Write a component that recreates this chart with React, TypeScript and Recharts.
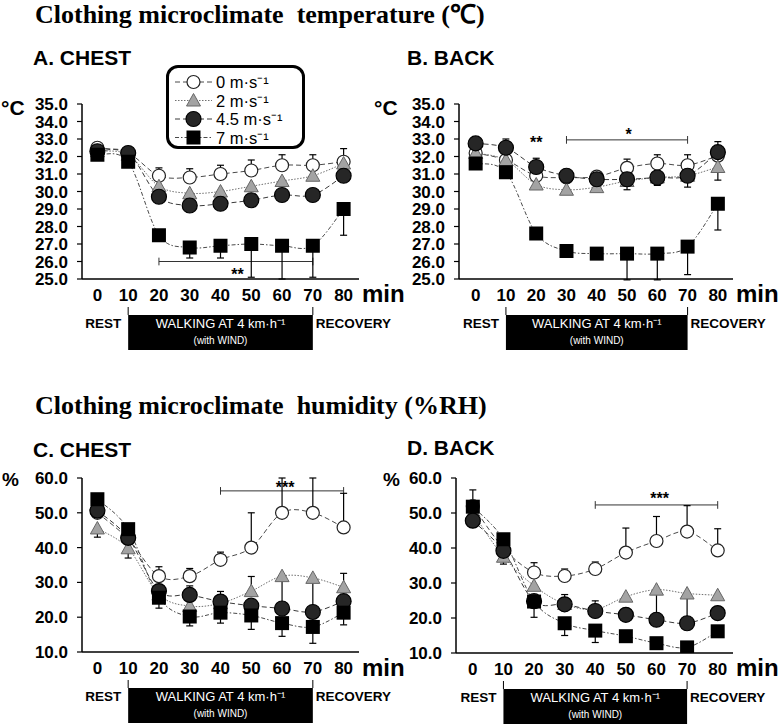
import React from 'react';
import { LineChart, Line, XAxis, YAxis, ErrorBar, ReferenceLine, ReferenceDot } from 'recharts';

type Sd = [number, number] | null;

const minutes = [0, 10, 20, 30, 40, 50, 60, 70, 80];
const minuteTicks = [0, 10, 20, 30, 40, 50, 60, 70, 80];
const windLabels = ['0 m·s⁻¹', '2 m·s⁻¹', '4.5 m·s⁻¹', '7 m·s⁻¹'];
const tempTicks = [25, 26, 27, 28, 29, 30, 31, 32, 33, 34, 35];
const rhTicks = [10, 20, 30, 40, 50, 60];

// A. Chest temperature (°C), one array per wind speed; SD given as [below, above]
const chestTemp0 = [32.5, 32.2, 30.9, 30.8, 31.0, 31.2, 31.5, 31.5, 31.7];
const chestTemp2 = [32.3, 32.1, 30.3, 29.9, 30.0, 30.3, 30.6, 30.9, 31.6];
const chestTemp45 = [32.3, 32.2, 29.7, 29.2, 29.3, 29.5, 29.8, 29.8, 30.9];
const chestTemp7 = [32.1, 31.7, 27.5, 26.8, 26.9, 27.0, 26.9, 26.9, 29.0];
const chestTemp0Sd: Sd[] = [null, null, [0, 0.45], [0, 0.5], [0, 0.5], [0, 0.6], [0, 0.6], [0, 0.6], [0, 0.75]];
const chestTemp2Sd: Sd[] = [null, null, null, null, null, null, null, null, null];
const chestTemp45Sd: Sd[] = [null, null, null, null, null, null, null, null, null];
const chestTemp7Sd: Sd[] = [null, null, null, [0.6, 0], [0.7, 0], [1.9, 0], [1.9, 0], [1.8, 0], [1.5, 0]];

// B. Back temperature (°C)
const backTemp0 = [32.2, 31.8, 30.9, 30.8, 30.85, 31.35, 31.6, 31.5, 32.05];
const backTemp2 = [32.2, 31.8, 30.4, 30.1, 30.25, 30.6, 30.8, 30.9, 31.4];
const backTemp45 = [32.75, 32.5, 31.4, 30.9, 30.7, 30.7, 30.8, 30.9, 32.25];
const backTemp7 = [31.6, 31.1, 27.6, 26.6, 26.45, 26.45, 26.45, 26.85, 29.3];
const backTemp0Sd: Sd[] = [null, null, null, null, null, [0, 0.5], [0, 0.5], [0, 0.6], null];
const backTemp2Sd: Sd[] = [null, null, null, null, null, null, null, null, [0.75, 0]];
const backTemp45Sd: Sd[] = [null, [0, 0.5], [0, 0.5], null, null, [0.6, 0], [0.45, 0], [0.65, 0], [0, 0.6]];
const backTemp7Sd: Sd[] = [null, null, null, null, null, [1.5, 0], [1.5, 0], [1.6, 0], [1.5, 0]];

// C. Chest humidity (%RH)
const chestRh0 = [50.0, 42.5, 31.8, 31.8, 36.5, 40.0, 50.0, 50.0, 45.8];
const chestRh2 = [45.5, 39.8, 26.5, 23.2, 24.0, 27.5, 31.8, 31.3, 28.6];
const chestRh45 = [50.6, 42.8, 27.5, 26.4, 24.5, 23.3, 22.5, 21.5, 24.6];
const chestRh7 = [53.9, 45.3, 25.6, 20.2, 21.3, 20.5, 18.3, 17.2, 21.3];
const chestRh0Sd: Sd[] = [null, null, [0, 2.7], [0, 2.2], [0, 2.2], [0, 10], [0, 10], [0, 10], [0, 9.8]];
const chestRh2Sd: Sd[] = [[2.5, 0], [2.8, 0], null, null, null, [0, 4.2], [9.5, 0], [10, 0], [0, 4.0]];
const chestRh45Sd: Sd[] = [null, null, null, [0, 2.6], [0, 2.9], null, null, null, null];
const chestRh7Sd: Sd[] = [null, null, [3, 0], [2.7, 0], [3, 0], [4, 0], [3.8, 0], [4.7, 0], [3.5, 0]];

// D. Back humidity (%RH)
const backRh0 = [52.0, 40.0, 33.0, 32.0, 34.0, 38.7, 42.0, 44.7, 39.3];
const backRh2 = [50.0, 37.5, 29.2, 24.0, 22.5, 26.1, 28.1, 27.0, 26.5];
const backRh45 = [47.8, 39.2, 24.8, 23.9, 22.0, 20.9, 19.5, 18.5, 21.4];
const backRh7 = [51.8, 42.5, 24.7, 18.5, 16.4, 14.8, 12.8, 11.6, 16.2];
const backRh0Sd: Sd[] = [[0, 4.6], null, [0, 2.8], [0, 2.0], [0, 2.0], [0, 7.0], [0, 7.0], [0, 7.4], [0, 6.2]];
const backRh2Sd: Sd[] = [null, null, null, null, null, null, [8, 0], [8, 0], null];
const backRh45Sd: Sd[] = [null, [3.8, 0], null, [0, 2.8], [0, 2.9], null, null, null, null];
const backRh7Sd: Sd[] = [null, [0, 1.5], [4.5, 0], [3.5, 0], [3.4, 0], null, null, null, null];

// Significance brackets and asterisks (data coordinates)
type Bracket = { from: number; to: number; level: number };
type Mark = { at: number; level: number; text: string };
const chestTempBrackets: Bracket[] = [{ from: 20, to: 70, level: 26.0 }];
const chestTempMarks: Mark[] = [{ at: 45.5, level: 25.45, text: '**' }];
const backTempBrackets: Bracket[] = [{ from: 30, to: 70, level: 32.95 }];
const backTempMarks: Mark[] = [
  { at: 20, level: 33.0, text: '**' },
  { at: 50.5, level: 33.45, text: '*' },
];
const chestRhBrackets: Bracket[] = [{ from: 40, to: 80, level: 56.3 }];
const chestRhMarks: Mark[] = [{ at: 61, level: 58.4, text: '***' }];
const backRhBrackets: Bracket[] = [{ from: 40, to: 80, level: 52.3 }];
const backRhMarks: Mark[] = [{ at: 61, level: 55.2, text: '***' }];

const SANS = '"Liberation Sans", Arial, Helvetica, sans-serif';
const SERIF = '"Liberation Serif", "Times New Roman", serif';

type MarkerKind = 'open' | 'triangle' | 'dark' | 'square';

const seriesStyles: { key: string; marker: MarkerKind; stroke: string; dash: string }[] = [
  { key: 'w0', marker: 'open', stroke: '#4a4a4a', dash: '5 3' },
  { key: 'w2', marker: 'triangle', stroke: '#707070', dash: '1.5 1.5' },
  { key: 'w45', marker: 'dark', stroke: '#3a3a3a', dash: '5 3' },
  { key: 'w7', marker: 'square', stroke: '#4a4a4a', dash: '4 2 1.5 2' },
];

function buildRows(values: number[][], sds: Sd[][]) {
  return minutes.map((minute, i) => ({
    minute,
    w0: values[0][i],
    w2: values[1][i],
    w45: values[2][i],
    w7: values[3][i],
    w0sd: sds[0][i],
    w2sd: sds[1][i],
    w45sd: sds[2][i],
    w7sd: sds[3][i],
  }));
}

// Smoothed line through every point (Catmull-Rom converted to cubic Bezier)
const smoothCurve: any = (context: any) => {
  let pts: [number, number][] = [];
  return {
    areaStart() {},
    areaEnd() {},
    lineStart() {
      pts = [];
    },
    point(x: number, y: number) {
      pts.push([+x, +y]);
    },
    lineEnd() {
      const n = pts.length;
      if (!n) return;
      context.moveTo(pts[0][0], pts[0][1]);
      for (let i = 0; i < n - 1; i++) {
        const p0 = pts[Math.max(i - 1, 0)];
        const p1 = pts[i];
        const p2 = pts[i + 1];
        const p3 = pts[Math.min(i + 2, n - 1)];
        context.bezierCurveTo(
          p1[0] + (p2[0] - p0[0]) / 6,
          p1[1] + (p2[1] - p0[1]) / 6,
          p2[0] - (p3[0] - p1[0]) / 6,
          p2[1] - (p3[1] - p1[1]) / 6,
          p2[0],
          p2[1]
        );
      }
    },
  };
};

function drawMarker(kind: MarkerKind, cx: number, cy: number, key?: any) {
  switch (kind) {
    case 'open':
      return <circle key={key} cx={cx} cy={cy} r={6.5} fill="#fff" stroke="#222" strokeWidth={1.2} />;
    case 'triangle':
      return (
        <polygon
          key={key}
          points={`${cx},${cy - 7} ${cx + 7},${cy + 5.5} ${cx - 7},${cy + 5.5}`}
          fill="#a3a3a3"
          stroke="#666"
          strokeWidth={1}
        />
      );
    case 'dark':
      return <circle key={key} cx={cx} cy={cy} r={7.5} fill="#262626" stroke="#000" strokeWidth={1.2} />;
    default:
      return <rect key={key} x={cx - 7} y={cy - 7} width={14} height={14} fill="#000" />;
  }
}

const markerDot = (kind: MarkerKind) => (props: any) => {
  const { cx, cy, index } = props;
  if (cx == null || cy == null) return <g key={index} />;
  return drawMarker(kind, cx, cy, index);
};

type Geometry = { left: number; top: number; width: number; height: number; xDomain: [number, number] };

const geomA: Geometry = { left: 82, top: 104, width: 277, height: 175, xDomain: [-5, 85] };
const geomB: Geometry = { left: 459, top: 104, width: 274, height: 175, xDomain: [-5.5, 85] };
const geomC: Geometry = { left: 82, top: 478, width: 277, height: 174, xDomain: [-5, 85] };
const geomD: Geometry = { left: 456, top: 478, width: 277, height: 175, xDomain: [-5.5, 85] };

const px = (g: Geometry, v: number) => g.left + ((v - g.xDomain[0]) / (g.xDomain[1] - g.xDomain[0])) * g.width;

const tickFont = { fill: '#000', fontSize: 17, fontWeight: 700, fontFamily: SANS };

interface PanelProps {
  g: Geometry;
  rows: any[];
  yDomain: [number, number];
  yTicks: number[];
  brackets: Bracket[];
  marks: Mark[];
  tickHalf: number;
}

function Panel({ g, rows, yDomain, yTicks, brackets, marks, tickHalf }: PanelProps) {
  const padTop = 14;
  const padRight = 14;
  const yAxisW = 60;
  const padLeft = 20;
  const xAxisH = 32;
  return (
    <div style={{ position: 'absolute', left: g.left - yAxisW - padLeft, top: g.top - padTop }}>
      <LineChart
        width={padLeft + yAxisW + g.width + padRight}
        height={padTop + g.height + xAxisH}
        data={rows}
        margin={{ top: padTop, right: padRight, bottom: 0, left: padLeft }}
      >
        <XAxis
          type="number"
          dataKey="minute"
          domain={g.xDomain}
          ticks={minuteTicks}
          interval={0}
          allowDataOverflow
          tickLine={false}
          tickSize={0}
          tickMargin={10}
          height={xAxisH}
          axisLine={{ stroke: '#000', strokeWidth: 1.5 }}
          tick={tickFont}
        />
        <YAxis
          type="number"
          domain={yDomain}
          ticks={yTicks}
          interval={0}
          allowDataOverflow
          width={yAxisW}
          tickSize={5}
          tickMargin={9}
          tickFormatter={(v: number) => v.toFixed(1)}
          axisLine={{ stroke: '#000', strokeWidth: 1.5 }}
          tickLine={{ stroke: '#000', strokeWidth: 1.2 }}
          tick={tickFont}
        />
        {brackets.map((b, i) => (
          <ReferenceLine
            key={`bh${i}`}
            segment={[{ x: b.from, y: b.level }, { x: b.to, y: b.level }]}
            stroke="#333"
            strokeWidth={1}
          />
        ))}
        {brackets.map((b, i) => (
          <ReferenceLine
            key={`bl${i}`}
            segment={[{ x: b.from, y: b.level - tickHalf }, { x: b.from, y: b.level + tickHalf }]}
            stroke="#333"
            strokeWidth={1}
          />
        ))}
        {brackets.map((b, i) => (
          <ReferenceLine
            key={`br${i}`}
            segment={[{ x: b.to, y: b.level - tickHalf }, { x: b.to, y: b.level + tickHalf }]}
            stroke="#333"
            strokeWidth={1}
          />
        ))}
        {seriesStyles.map((s) => (
          <Line
            key={s.key}
            type={smoothCurve}
            dataKey={s.key}
            stroke={s.stroke}
            strokeWidth={1}
            strokeDasharray={s.dash}
            dot={markerDot(s.marker)}
            activeDot={false}
            isAnimationActive={false}
          >
            <ErrorBar dataKey={`${s.key}sd`} width={3.5} stroke="#000" strokeWidth={1.2} direction="y" />
          </Line>
        ))}
        {marks.map((m, i) => (
          <ReferenceDot
            key={`m${i}`}
            x={m.at}
            y={m.level}
            r={1}
            shape={(p: any) => (
              <text
                x={p.cx}
                y={p.cy + 9}
                textAnchor="middle"
                fontSize={16}
                fontWeight={700}
                fontFamily={SANS}
                fill="#000"
              >
                {m.text}
              </text>
            )}
          />
        ))}
      </LineChart>
    </div>
  );
}

function PhaseStrip({ g }: { g: Geometry }) {
  const axisY = g.top + g.height;
  const x10 = px(g, 10);
  const x70 = px(g, 70);
  const boxTop = axisY + 36;
  const boxBottom = axisY + 71;
  const base = axisY + 49;
  return (
    <g>
      <line x1={x10} x2={x10} y1={axisY + 28} y2={boxTop} stroke="#000" strokeWidth={1} />
      <line x1={x70} x2={x70} y1={axisY + 28} y2={boxTop} stroke="#000" strokeWidth={1} />
      <rect x={x10} y={boxTop} width={x70 - x10} height={boxBottom - boxTop} fill="#000" />
      <text x={x10 - 7} y={base} textAnchor="end" fontSize={13.5} fontWeight={700} fontFamily={SANS} fill="#000">
        REST
      </text>
      <text x={x70 + 3} y={base} fontSize={13.5} fontWeight={700} fontFamily={SANS} fill="#000">
        RECOVERY
      </text>
      <text x={(x10 + x70) / 2} y={base} textAnchor="middle" fontSize={13} fontFamily={SANS} fill="#fff">
        WALKING AT 4 km·h⁻¹
      </text>
      <text x={(x10 + x70) / 2} y={axisY + 65} textAnchor="middle" fontSize={10} fontFamily={SANS} fill="#fff">
        (with WIND)
      </text>
    </g>
  );
}

function WindLegend() {
  const rowsY = [14, 32.5, 51, 69.5];
  return (
    <div
      style={{
        position: 'absolute',
        left: 166,
        top: 65,
        width: 133,
        height: 78,
        border: '3px solid #000',
        borderRadius: 12,
        background: '#fff',
      }}
    >
      <svg width={133} height={78} style={{ position: 'absolute', left: 0, top: 0 }}>
        {windLabels.map((label, i) => {
          const s = seriesStyles[i];
          const y = rowsY[i];
          return (
            <g key={label}>
              <line x1={6} x2={43} y1={y} y2={y} stroke={s.stroke} strokeWidth={1} strokeDasharray={s.dash} />
              {drawMarker(s.marker, 24.5, y)}
              <text x={47} y={y + 6} fontSize={16.5} fontFamily={SANS} fill="#000">
                {label}
              </text>
            </g>
          );
        })}
      </svg>
    </div>
  );
}

export default function App() {
  const rowsA = buildRows(
    [chestTemp0, chestTemp2, chestTemp45, chestTemp7],
    [chestTemp0Sd, chestTemp2Sd, chestTemp45Sd, chestTemp7Sd]
  );
  const rowsB = buildRows(
    [backTemp0, backTemp2, backTemp45, backTemp7],
    [backTemp0Sd, backTemp2Sd, backTemp45Sd, backTemp7Sd]
  );
  const rowsC = buildRows(
    [chestRh0, chestRh2, chestRh45, chestRh7],
    [chestRh0Sd, chestRh2Sd, chestRh45Sd, chestRh7Sd]
  );
  const rowsD = buildRows(
    [backRh0, backRh2, backRh45, backRh7],
    [backRh0Sd, backRh2Sd, backRh45Sd, backRh7Sd]
  );

  return (
    <div
      style={{
        position: 'absolute',
        left: 0,
        top: 0,
        width: 778,
        height: 728,
        background: '#fff',
        overflow: 'hidden',
        fontFamily: SANS,
      }}
    >
      <svg width={778} height={728} style={{ position: 'absolute', left: 0, top: 0 }}>
        <text x={35} y={23} fontSize={26} fontWeight={700} fontFamily={SERIF} fill="#000" style={{ whiteSpace: 'pre' }}>
          {'Clothing microclimate  temperature (℃)'}
        </text>
        <text x={35} y={414} fontSize={26} fontWeight={700} fontFamily={SERIF} fill="#000" style={{ whiteSpace: 'pre' }}>
          {'Clothing microclimate  humidity (%RH)'}
        </text>

        <text x={33} y={65} fontSize={21} fontWeight={700} fontFamily={SANS}>A. CHEST</text>
        <text x={407} y={65} fontSize={21} fontWeight={700} fontFamily={SANS}>B. BACK</text>
        <text x={33} y={457} fontSize={21} fontWeight={700} fontFamily={SANS}>C. CHEST</text>
        <text x={407} y={455} fontSize={21} fontWeight={700} fontFamily={SANS}>D. BACK</text>

        <text x={1} y={115} fontSize={21} fontWeight={700} fontFamily={SANS}>°C</text>
        <text x={374} y={115} fontSize={21} fontWeight={700} fontFamily={SANS}>°C</text>
        <text x={2} y={486} fontSize={19} fontWeight={700} fontFamily={SANS}>%</text>
        <text x={383} y={486} fontSize={19} fontWeight={700} fontFamily={SANS}>%</text>

        <text x={362} y={302} fontSize={24} fontWeight={700} fontFamily={SANS}>min</text>
        <text x={736} y={302} fontSize={24} fontWeight={700} fontFamily={SANS}>min</text>
        <text x={362} y={676} fontSize={24} fontWeight={700} fontFamily={SANS}>min</text>
        <text x={736} y={676} fontSize={24} fontWeight={700} fontFamily={SANS}>min</text>

        <PhaseStrip g={geomA} />
        <PhaseStrip g={geomB} />
        <PhaseStrip g={geomC} />
        <PhaseStrip g={geomD} />
      </svg>

      <Panel g={geomA} rows={rowsA} yDomain={[25, 35]} yTicks={tempTicks} brackets={chestTempBrackets} marks={chestTempMarks} tickHalf={0.22} />
      <Panel g={geomB} rows={rowsB} yDomain={[25, 35]} yTicks={tempTicks} brackets={backTempBrackets} marks={backTempMarks} tickHalf={0.22} />
      <Panel g={geomC} rows={rowsC} yDomain={[10, 60]} yTicks={rhTicks} brackets={chestRhBrackets} marks={chestRhMarks} tickHalf={1.1} />
      <Panel g={geomD} rows={rowsD} yDomain={[10, 60]} yTicks={rhTicks} brackets={backRhBrackets} marks={backRhMarks} tickHalf={1.1} />

      <WindLegend />
    </div>
  );
}
